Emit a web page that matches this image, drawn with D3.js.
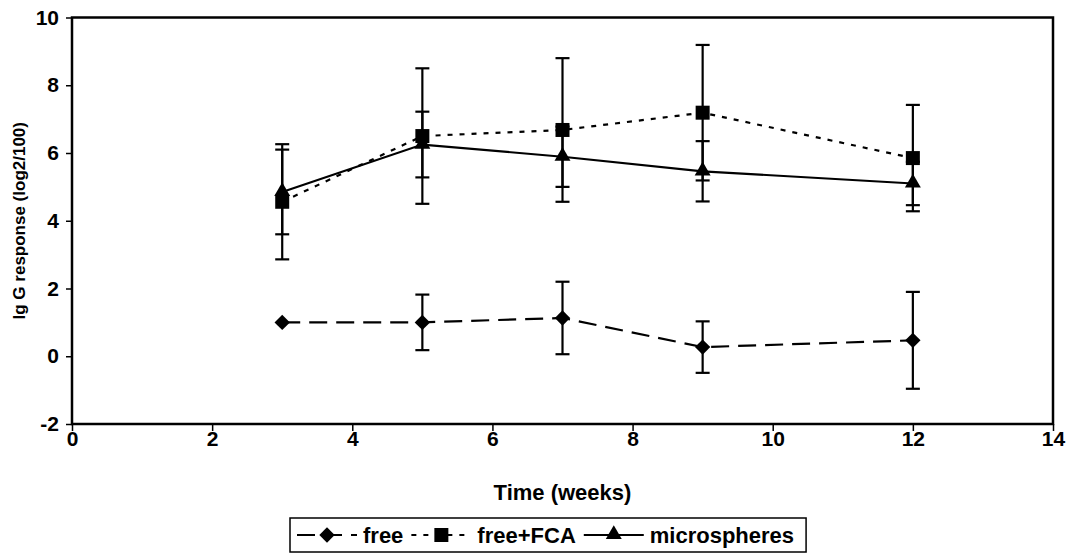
<!DOCTYPE html>
<meta charset="UTF-8">
<script src="https://cdnjs.cloudflare.com/ajax/libs/d3/7.8.5/d3.min.js"></script>
<style>
    body { margin: 0; background: #fff; }
    text { font-family: "Liberation Sans", Arial, sans-serif; font-weight: bold; fill: #000; }
</style>
<svg width="1071" height="553"></svg>
<script>
    // values
    let weeks = [3, 5, 7, 9, 12];
    let free = [1.0, 1.0, 1.13, 0.27, 0.47];
    let freeErr = [0, 0.82, 1.07, 0.76, 1.43];
    let freeFca = [4.56, 6.5, 6.68, 7.19, 5.85];
    let freeFcaErr = [1.7, 2.0, 2.12, 2.0, 1.57];
    let micro = [4.85, 6.25, 5.89, 5.46, 5.1];
    let microErr = [1.25, 0.97, 0.89, 0.89, 0.64];
    let xTicks = [0, 2, 4, 6, 8, 10, 12, 14];
    let yTicks = [-2, 0, 2, 4, 6, 8, 10];

    let svg = d3.select("svg");
    let pLeft = 72, pRight = 1053, pTop = 17.5, pBottom = 424;

    let x = d3.scaleLinear().domain([0, 14]).range([pLeft, pRight]);
    let y = d3.scaleLinear().domain([-2, 10]).range([pBottom, pTop]);

    let series = [
        {name: "free", v: free, e: freeErr, dash: "18,9", sym: "diamond"},
        {name: "free+FCA", v: freeFca, e: freeFcaErr, dash: "5,7", sym: "square"},
        {name: "microspheres", v: micro, e: microErr, dash: null, sym: "triangle"}
    ];

    function marker(g, kind, cx, cy) {
        if (kind == "diamond") {
            g.append("path").attr("d", d3.symbol(d3.symbolSquare, 118)())
                .attr("transform", "translate(" + cx + "," + cy + ") rotate(45)");
        } else if (kind == "square") {
            g.append("path").attr("d", d3.symbol(d3.symbolSquare, 196)())
                .attr("transform", "translate(" + cx + "," + cy + ")");
        } else {
            g.append("path").attr("d", d3.symbol(d3.symbolTriangle, 110)())
                .attr("transform", "translate(" + cx + "," + (cy - 0.5) + ")");
        }
    }

    // axes
    let fmt = function (d) { return String(d); };
    let xAxis = svg.append("g").attr("transform", "translate(0," + pBottom + ")")
        .call(d3.axisBottom(x).tickValues(xTicks).tickFormat(fmt).tickSize(7).tickPadding(0).tickSizeOuter(0));
    let yAxis = svg.append("g").attr("transform", "translate(" + pLeft + ",0)")
        .call(d3.axisLeft(y).tickValues(yTicks).tickFormat(fmt).tickSize(6).tickPadding(7).tickSizeOuter(0));
    [xAxis, yAxis].forEach(function (a) {
        a.select(".domain").remove();
        a.selectAll("line").attr("stroke", "#000").attr("stroke-width", 1.5);
        a.selectAll("text").style("font-size", "21px")
            .style("font-family", "'Liberation Sans', Arial, sans-serif").style("font-weight", "bold");
    });

    svg.append("rect")
        .attr("x", pLeft).attr("y", pTop)
        .attr("width", pRight - pLeft).attr("height", pBottom - pTop)
        .attr("fill", "none").attr("stroke", "#000").attr("stroke-width", 2.5);

    // titles
    svg.append("text").attr("x", (pLeft + pRight) / 2).attr("y", 500)
        .attr("text-anchor", "middle").style("font-size", "22px").text("Time (weeks)");
    svg.append("text").attr("transform", "translate(25," + ((pTop + pBottom) / 2) + ") rotate(-90)")
        .attr("text-anchor", "middle").style("font-size", "17px").text("Ig G response (log2/100)");

    let plot = svg.append("g");

    // error bars
    series.forEach(function (s) {
        let g = plot.append("g").attr("stroke", "#000").attr("stroke-width", 2.2);
        weeks.forEach(function (w, i) {
            if (!s.e[i]) return;
            let px = x(w), y1 = y(s.v[i] + s.e[i]), y0 = y(s.v[i] - s.e[i]);
            g.append("line").attr("x1", px).attr("x2", px).attr("y1", y1).attr("y2", y0);
            g.append("line").attr("x1", px - 7).attr("x2", px + 7).attr("y1", y1).attr("y2", y1);
            g.append("line").attr("x1", px - 7).attr("x2", px + 7).attr("y1", y0).attr("y2", y0);
        });
    });

    // lines + markers
    let line = d3.line().x(function (d) { return x(d[0]); }).y(function (d) { return y(d[1]); });
    series.forEach(function (s) {
        plot.append("path")
            .datum(weeks.map(function (w, i) { return [w, s.v[i]]; }))
            .attr("d", line)
            .attr("fill", "none").attr("stroke", "#000").attr("stroke-width", 2.2)
            .attr("stroke-dasharray", s.dash);
        let mg = plot.append("g").attr("fill", "#000");
        weeks.forEach(function (w, i) {
            marker(mg, s.sym, x(w), y(s.v[i]));
        });
    });

    // legend
    let legend = svg.append("g");
    let box = legend.append("rect").attr("y", 518).attr("height", 34)
        .attr("fill", "#fff").attr("stroke", "#000").attr("stroke-width", 1.5);
    let lx = 297, ly = 535, seg = 60;
    series.forEach(function (s) {
        legend.append("line").attr("x1", lx).attr("x2", lx + seg).attr("y1", ly).attr("y2", ly)
            .attr("stroke", "#000").attr("stroke-width", 2.2).attr("stroke-dasharray", s.dash);
        let mg = legend.append("g").attr("fill", "#000");
        marker(mg, s.sym, lx + seg / 2, ly);
        let t = legend.append("text").attr("x", lx + seg + 6).attr("y", ly + 8)
            .style("font-size", "22px").text(s.name);
        lx += seg + 6 + t.node().getComputedTextLength() + 8;
    });
    box.attr("x", 290).attr("width", lx - 290 + 4);
</script>
